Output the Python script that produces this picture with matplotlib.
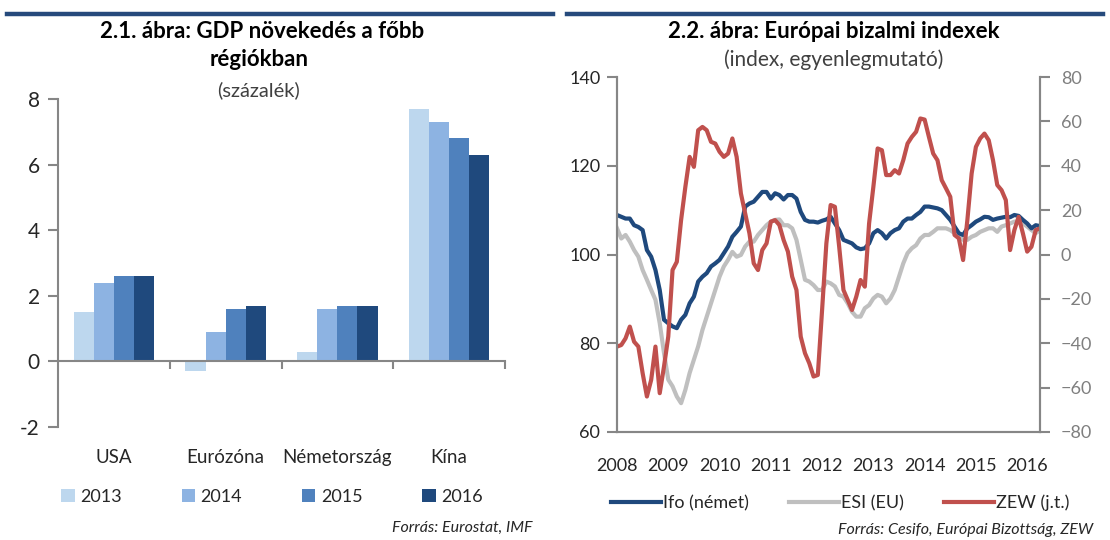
import matplotlib
matplotlib.use("Agg")
import matplotlib.pyplot as plt
from matplotlib.patches import Patch
from matplotlib.lines import Line2D
import numpy as np

plt.rcParams['font.family'] = ['Lato', 'DejaVu Sans']

# ---------------- data: left chart ----------------
regions = ["USA", "Eurózóna", "Németország", "Kína"]
years_bar = ["2013", "2014", "2015", "2016"]
gdp_2013 = [1.5, -0.3, 0.3, 7.7]
gdp_2014 = [2.4, 0.9, 1.6, 7.3]
gdp_2015 = [2.6, 1.6, 1.7, 6.8]
gdp_2016 = [2.6, 1.7, 1.7, 6.3]
bar_colors = ["#BDD7EE", "#8DB3E2", "#4F81BD", "#1F497D"]

# ---------------- data: right chart (monthly, Jan 2008 - Apr 2016) ----------------
year_labels = ["2008", "2009", "2010", "2011", "2012", "2013", "2014", "2015", "2016"]
ifo = [108.9, 108.5, 108.1, 108.1, 106.6, 106.2, 105.5, 101.0, 99.5, 96.5, 92.0, 85.3,
       84.5, 83.8, 83.4, 85.3, 86.4, 89.0, 90.5, 93.9, 95.0, 95.8, 97.3, 98.0,
       98.8, 100.3, 101.8, 104.0, 105.1, 106.3, 110.8, 111.5, 111.9, 113.0, 114.1, 114.1,
       112.6, 113.8, 113.4, 112.4, 113.4, 113.4, 112.6, 109.6, 107.8, 107.4, 107.4, 107.2,
       107.6, 107.9, 108.5, 107.0, 105.5, 103.3, 102.9, 102.5, 101.6, 101.2, 101.4, 102.5,
       104.8, 105.5, 104.8, 103.6, 104.8, 105.5, 105.9, 107.4, 108.1, 108.1, 108.9, 109.6,
       110.8, 110.8, 110.6, 110.4, 110.0, 108.9, 107.8, 106.3, 104.8, 104.4, 105.9, 106.6,
       107.4, 107.9, 108.5, 108.4, 107.8, 108.1, 108.3, 108.5, 108.4, 108.9, 108.7, 107.8,
       107.0, 105.9, 106.6, 106.4]
esi = [105.9, 103.6, 104.4, 102.9, 101.0, 99.5, 96.5, 94.3, 92.0, 89.8, 84.5, 77.8,
       71.8, 70.3, 68.0, 66.5, 69.5, 73.3, 76.3, 79.3, 83.0, 86.0, 89.0, 92.0,
       95.0, 97.3, 98.8, 100.6, 99.5, 99.9, 101.8, 102.9, 102.9, 104.4, 105.5, 106.6,
       107.4, 107.8, 107.9, 106.6, 106.6, 105.9, 103.3, 98.8, 94.3, 93.9, 93.1, 92.0,
       92.0, 93.9, 93.5, 92.8, 90.9, 90.5, 89.0, 87.1, 86.0, 86.0, 87.9, 88.6,
       90.1, 90.9, 90.5, 89.0, 90.1, 92.0, 95.0, 98.0, 100.3, 101.4, 102.1, 103.6,
       104.4, 104.4, 105.1, 105.9, 105.9, 105.9, 105.5, 104.8, 104.0, 103.3, 103.3, 104.0,
       104.4, 105.1, 105.5, 105.9, 105.9, 105.1, 106.3, 106.6, 107.0, 107.4, 107.4, 107.0,
       106.3, 105.5, 104.8, 105.5]
zew = [-41.5, -40.8, -37.8, -32.5, -39.3, -41.5, -53.5, -64.0, -56.5, -41.5, -62.5, -50.5,
       -37.0, -7.0, -3.3, 15.5, 30.5, 44.0, 39.5, 56.0, 57.5, 56.0, 50.8, 50.0,
       46.3, 44.0, 45.5, 52.3, 44.0, 27.5, 18.5, 9.5, -4.0, -7.0, 2.0, 5.0,
       14.8, 15.5, 13.3, 6.5, 1.3, -10.0, -16.0, -37.0, -44.5, -49.0, -55.0, -54.3,
       -25.0, 5.0, 22.3, 21.5, 3.5, -16.0, -20.5, -25.0, -19.0, -11.5, -14.5, 14.0,
       30.5, 47.8, 47.0, 35.8, 35.8, 38.0, 36.5, 42.5, 50.0, 53.0, 55.3, 61.3,
       60.8, 53.0, 45.5, 42.5, 33.5, 29.8, 26.0, 8.8, 7.3, -2.5, 15.5, 36.5,
       48.5, 52.3, 54.5, 51.5, 42.5, 31.3, 29.0, 24.5, 2.0, 11.0, 17.0, 9.5,
       1.3, 3.5, 11.0, 11.8]
series_names = ["Ifo (német)", "ESI (EU)", "ZEW (j.t.)"]

W, H = 1110, 540
fig = plt.figure(figsize=(W / 100, H / 100), dpi=100)


def fx(px):
    return px / W


def fy(py):
    return 1 - py / H


RULE = "#264A7C"
AXC = "#868686"
TXT = "#262626"

# top rules
fig.add_artist(Line2D([fx(7), fx(553)], [fy(14), fy(14)], color=RULE, lw=3.2))
fig.add_artist(Line2D([fx(567), fx(1103)], [fy(14), fy(14)], color=RULE, lw=3.2))

# ---------------- left chart ----------------
L, R, T, B = 58, 505, 99, 427
ax1 = fig.add_axes([fx(L), fy(B), fx(R - L), fy(T) - fy(B)])
x = np.arange(len(regions))
bw = 0.18
series = [gdp_2013, gdp_2014, gdp_2015, gdp_2016]
for i, (vals, c, lab) in enumerate(zip(series, bar_colors, years_bar)):
    ax1.bar(x + (i - 1.5) * bw, vals, width=bw, color=c, label=lab, linewidth=0)
ax1.set_xlim(-0.5, len(regions) - 0.5)
ax1.set_ylim(-2, 8)
ax1.set_yticks([-2, 0, 2, 4, 6, 8])
ax1.set_yticklabels(["-2", "0", "2", "4", "6", "8"])
for s in ["top", "right"]:
    ax1.spines[s].set_visible(False)
ax1.spines["left"].set_color(AXC)
ax1.spines["left"].set_linewidth(1.5)
ax1.spines["bottom"].set_position(("data", 0))
ax1.spines["bottom"].set_color(AXC)
ax1.spines["bottom"].set_linewidth(1.5)
ax1.set_xticks(np.arange(len(regions)) + 0.5)
ax1.set_xticklabels([])
ax1.tick_params(axis="x", direction="out", length=6, width=1.5, color=AXC)
ax1.tick_params(axis="y", direction="out", length=7, width=1.5, color=AXC,
                labelsize=15, labelcolor=TXT, pad=6)
for i, r in enumerate(regions):
    ax1.text(i, -0.094, r, transform=ax1.get_xaxis_transform(), ha="center",
             va="center", fontsize=13.5, color=TXT)

handles = [Patch(facecolor=c, edgecolor="none") for c in bar_colors]
fig.legend(handles, years_bar, loc="center", bbox_to_anchor=(fx(272), fy(497)),
           ncol=4, frameon=False, fontsize=13, handlelength=0.75, handleheight=0.75,
           handletextpad=0.3, columnspacing=3.3, labelcolor=TXT)

fig.text(fx(262), fy(32), "2.1. ábra: GDP növekedés a főbb", ha="center", va="center",
         fontsize=16, fontweight="bold", color="black")
fig.text(fx(259), fy(60), "régiókban", ha="center", va="center",
         fontsize=16, fontweight="bold", color="black")
fig.text(fx(259), fy(90), "(százalék)", ha="center", va="center",
         fontsize=14.5, color="#404040")
fig.text(fx(532), fy(528), "Forrás: Eurostat, IMF", ha="right", va="center",
         fontsize=11.5, style="italic", color=TXT)

# ---------------- right chart ----------------
L2, R2, T2, B2 = 617, 1040, 77, 432
ax2 = fig.add_axes([fx(L2), fy(B2), fx(R2 - L2), fy(T2) - fy(B2)])
m = np.arange(len(ifo))
ax2.plot(m, esi, color="#BFBFBF", lw=3.0, solid_joinstyle="round")
ax2.plot(m, ifo, color="#1F497D", lw=3.0, solid_joinstyle="round")
ax2.set_xlim(0, len(ifo) - 1)
ax2.set_ylim(60, 140)
ax2.set_yticks([60, 80, 100, 120, 140])
ax2.set_xticks(np.arange(0, len(ifo), 12))
ax2.set_xticklabels(year_labels)
ax2.spines["top"].set_visible(False)
for s in ["left", "bottom", "right"]:
    ax2.spines[s].set_color(AXC)
    ax2.spines[s].set_linewidth(1.5)
ax2.tick_params(axis="y", direction="out", length=7, width=1.5, color=AXC,
                labelsize=13, labelcolor=TXT, pad=5)
ax2.tick_params(axis="x", length=0, labelsize=13, labelcolor=TXT, pad=19)

ax3 = ax2.twinx()
ax3.plot(m, zew, color="#C0504D", lw=3.0, solid_joinstyle="round")
ax3.set_ylim(-80, 80)
ax3.set_yticks([-80, -60, -40, -20, 0, 20, 40, 60, 80])
ax3.spines["top"].set_visible(False)
for s in ["left", "bottom", "right"]:
    ax3.spines[s].set_color(AXC)
    ax3.spines[s].set_linewidth(1.5)
ax3.tick_params(axis="y", direction="out", length=7, width=1.5, color=AXC,
                labelsize=13, labelcolor="#7F7F7F", pad=8)

lh = [Line2D([], [], color="#1F497D", lw=3.0),
      Line2D([], [], color="#BFBFBF", lw=3.0),
      Line2D([], [], color="#C0504D", lw=3.0)]
fig.legend(lh, series_names, loc="center", bbox_to_anchor=(fx(840), fy(503)),
           ncol=3, frameon=False, fontsize=13, handlelength=2.8,
           handletextpad=0.1, columnspacing=2.2, labelcolor=TXT)

fig.text(fx(834), fy(32), "2.2. ábra: Európai bizalmi indexek", ha="center", va="center",
         fontsize=16, fontweight="bold", color="black")
fig.text(fx(834), fy(60), "(index, egyenlegmutató)", ha="center", va="center",
         fontsize=15, color="#404040")
fig.text(fx(1093), fy(530), "Forrás: Cesifo, Európai Bizottság, ZEW", ha="right",
         va="center", fontsize=11.5, style="italic", color=TXT)

fig.savefig("out.png", dpi=100)
